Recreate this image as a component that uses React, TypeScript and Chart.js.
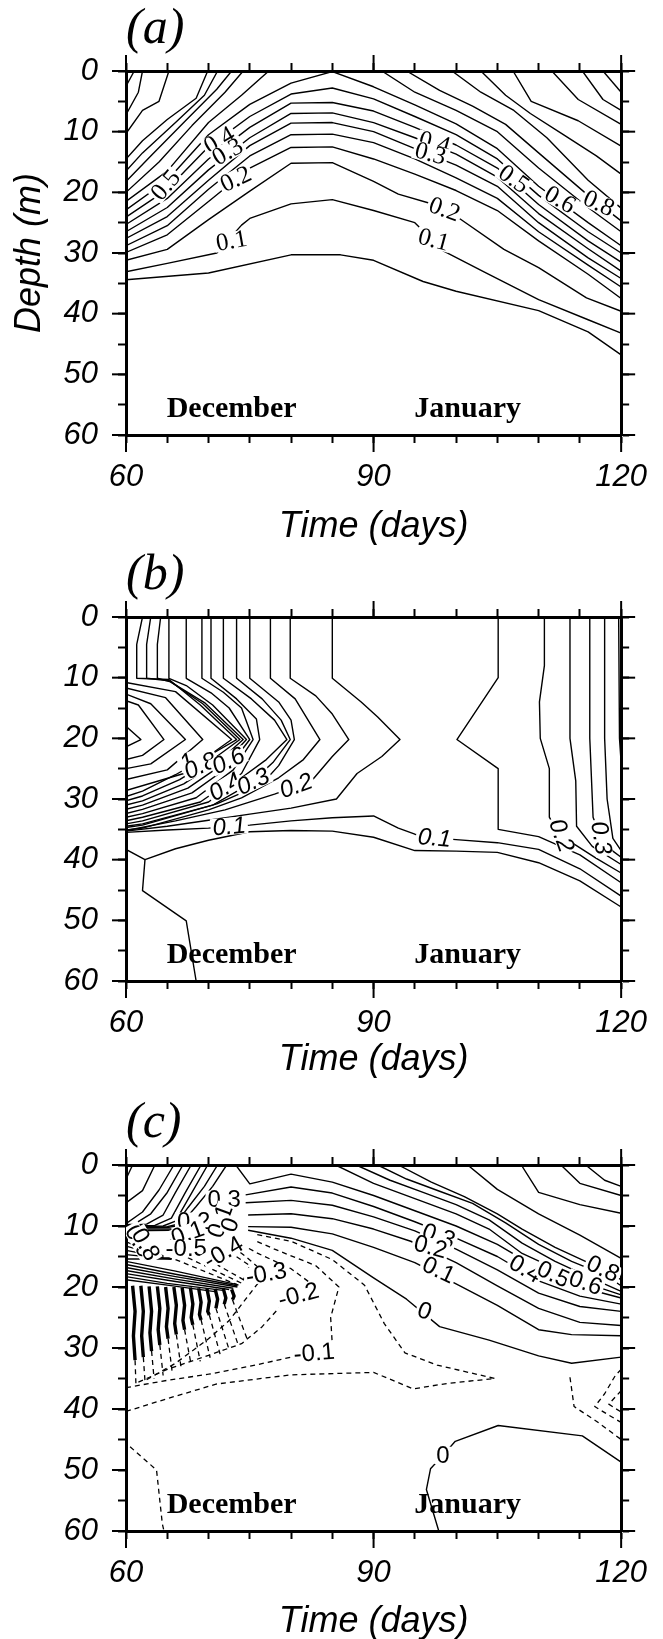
import React, { useEffect, useRef } from 'react';
import { Chart, registerables } from 'chart.js';

Chart.register(...registerables);

// ---------- axes / ticks ----------
const DAY_MIN = 60;
const DAY_MAX = 120;
const DEPTH_MIN = 0;
const DEPTH_MAX = 60;
const DAY_TICKS = [60, 65, 70, 75, 80, 85, 90, 95, 100, 105, 110, 115, 120];
const DAY_LABELS = [60, 90, 120];
const DEPTH_TICKS = [0, 5, 10, 15, 20, 25, 30, 35, 40, 45, 50, 55, 60];
const DEPTH_LABELS = [0, 10, 20, 30, 40, 50, 60];
const X_TITLE = 'Time (days)';
const Y_TITLE = 'Depth (m)';
// month annotations: [text, day, depth]
const MONTHS: [string, number, number][] = [
  ['December', 72.8, 57],
  ['January', 101.4, 57],
];

// ---------- panel (a) contour lines: [day, depth, day, depth, ...] ----------
const A_SOLID: number[][] = [
  [60, 34.4, 70, 33.3, 80, 30.3, 86, 30.3, 90, 31.2, 96, 34.7, 100, 36.3, 110, 39.5, 116, 43, 120, 46.8],
  [60, 33.1, 65, 31.7, 71, 30, 74, 25.4, 75, 24.3, 80, 21.9, 85, 21.2, 90, 23, 95, 25, 98.5, 29.7, 103.5, 33.2, 110, 37.7, 116, 41, 120, 43.2],
  [60, 31.2, 65, 29.4, 70, 24.5, 75, 19.8, 80, 15.2, 85, 15.1, 90, 18.2, 93, 20.3, 96.8, 21.8, 100.5, 24.4, 105.8, 29.4, 110, 32.4, 115.8, 37.4, 120, 39.6],
  [60, 29.9, 65, 27, 70, 21.5, 75, 16, 80, 12.6, 85, 12.5, 90, 14.5, 95, 17, 100, 19.7, 105, 23, 110, 28, 116, 33.5, 120, 37.5],
  [60, 28.8, 65, 25.5, 70, 19.5, 75, 14, 80, 10.5, 85, 10.4, 90, 11.8, 95, 14.5, 100, 17.6, 105, 21, 110, 26.5, 116, 32, 120, 35.6],
  [60, 27.6, 65, 24, 70, 18, 75, 12.3, 80, 8.6, 85, 8.5, 90, 10, 95, 12.8, 100, 15.5, 105, 19, 110, 25, 116, 30.8, 120, 34.2],
  [60, 26.5, 65, 22.5, 70, 16.3, 75, 11, 80, 7, 85, 6.9, 90, 8.5, 95, 11, 100, 13.7, 105, 17.5, 110, 23.5, 116, 29.3, 120, 33],
  [60, 25.3, 65, 21, 70, 14.5, 75, 9.3, 80, 5.3, 85, 5.2, 90, 6.6, 95, 9.3, 100, 12.2, 105, 16, 110, 22, 116, 28, 120, 31.5],
  [60, 24.1, 65, 19.5, 70, 12.5, 75, 7.5, 80, 3.8, 85, 2.8, 90, 4.6, 95, 7.5, 100, 10.5, 105, 14.5, 110, 20.5, 116, 26.5, 120, 30],
  [60, 22.9, 65, 18, 70, 10.5, 75, 5.5, 80, 2, 85, 0.1, 90, 2.6, 95, 5.6, 100, 8.7, 105, 12.8, 110, 19, 116, 25, 120, 28.8],
  [60, 21.5, 65, 16.5, 70, 8.5, 74, 4, 77.3, 0],
  [60, 20, 64, 15, 68, 9, 72, 3.5, 74.2, 0],
  [60, 18.2, 63, 14, 67, 8.5, 71, 3, 72.8, 0],
  [60, 16.5, 62, 13.5, 66, 8.5, 69.5, 4, 71.1, 0],
  [60, 14.5, 62, 11.5, 65, 8, 68.5, 4.5, 69.9, 0],
  [60, 10.3, 62, 6.5, 64, 5, 65.2, 0],
  [60, 7.2, 61.5, 3.5, 62, 0],
  [60, 2.5, 61, 0],
  [91, 0, 95, 3.5, 100, 6.5, 105, 10, 110, 16, 116, 22.5, 120, 26.5],
  [94, 0, 98, 3.2, 102, 5.8, 106, 8.8, 110, 13.5, 116, 20.5, 120, 24.7],
  [99.5, 0, 103, 3.5, 107, 6.5, 111, 11, 116, 18, 120, 22.6],
  [103, 0, 106, 4, 109, 7, 113, 10.5, 117, 14, 120, 17],
  [106.9, 0, 109.1, 5, 114.8, 8.2, 120, 12.4],
  [111.6, 0, 114.8, 4.7, 120, 8.8],
  [115.3, 0, 117.8, 4.7, 120, 6.5],
  [117.8, 0, 120, 3.5],
];
// [text, day, depth, angle]
const A_LABELS: [string, number, number, number][] = [
  ['0.4', 71.3, 11.4, -30], ['0.3', 72.3, 13.3, -30], ['0.5', 64.8, 18.8, -50],
  ['0.2', 73.3, 17.8, -25], ['0.1', 72.8, 28.0, -10],
  ['0.4', 97.4, 11.8, 15], ['0.3', 96.9, 13.6, 15], ['0.2', 98.6, 22.8, 20],
  ['0.1', 97.3, 27.8, 15], ['0.5', 107, 17.8, 35], ['0.6', 112.6, 21.2, 30], ['0.8', 117.3, 21.8, 25],
];

// ---------- panel (b) ----------
const B_SOLID: number[][] = [
  [60, 18, 61.8, 20.2, 60, 21.4],
  [60, 13.8, 61.5, 14.5, 64.6, 20.2, 62, 22.8, 60, 23.5],
  [60, 12.7, 63, 14.3, 67.2, 20.2, 63, 24.2, 60, 25],
  [60, 11.7, 64.8, 13.3, 69.3, 20.2, 65, 25.2, 60, 26.8],
  [60, 10.8, 66, 12.3, 72.8, 20.2, 67, 25.8, 60, 28.6],
  [62, 0, 61.3, 4.5, 61.3, 10.1, 65.2, 10.3, 69, 14.5, 73.4, 20.2, 70.5, 22.5, 66, 26, 62, 28.7, 60, 29.6],
  [63, 0, 62.5, 4.5, 62.5, 10.1, 65.2, 10.5, 69.3, 14.3, 73.8, 20.2, 71, 23, 66.5, 26.8, 62, 29.5, 60, 30.3],
  [64.2, 0, 63.8, 4.5, 63.8, 10.1, 65.4, 10.7, 69.6, 14.2, 74.2, 20.2, 71.5, 23.5, 67, 27.5, 62, 30.3, 60, 31],
  [65.2, 0, 65.2, 10.1, 67.3, 11.3, 70.5, 14.5, 74.6, 20.2, 72, 24, 67.5, 28.2, 62, 31, 60, 31.7],
  [67.3, 0, 67.3, 10.1, 70.3, 12.5, 72.5, 15, 75, 20.2, 72.5, 24.6, 68, 29, 62, 31.7, 60, 32.4],
  [69.2, 0, 69.2, 10.1, 71.8, 12.4, 74, 15, 75.4, 20.2, 73, 25.2, 68.5, 29.8, 62, 32.4, 60, 33],
  [70.3, 0, 70.3, 10.1, 73.4, 13.5, 75.8, 16.8, 76.2, 20.2, 74, 25.8, 69, 30.5, 62, 33, 60, 33.6],
  [71.8, 0, 71.8, 10.1, 75.2, 13.5, 78, 17, 79.5, 20.2, 77, 23.5, 74, 26.5, 70, 30.5, 62, 33.6, 60, 34.1],
  [73.4, 0, 73.4, 10.1, 76.5, 13.5, 78.8, 17, 79.9, 20.2, 77.8, 24, 75, 27.5, 70.5, 31, 62, 34.1, 60, 34.5],
  [75, 0, 75, 10.1, 78.5, 14, 80, 17, 80.4, 20.2, 78.5, 24.5, 76.5, 27.5, 71, 30.8, 62, 34.3, 60, 34.7],
  [77.5, 0, 77.5, 10.1, 80.5, 13.5, 83.5, 20.2, 81.5, 23.5, 78.5, 26.5, 74, 29.8, 70, 31.8, 62, 34.8, 60, 35.1],
  [79.9, 0, 79.9, 10.1, 83, 13, 85, 16, 87, 20.2, 85, 23, 82.5, 27, 78, 29.2, 72, 31.8, 66, 33.6, 60, 35.2],
  [85, 0, 85, 10.1, 88.5, 14, 90.5, 16.5, 93.2, 20.2, 91, 23, 88, 25.8, 85.5, 30, 80, 31.5, 75, 32.5, 70, 33.5, 65, 34.5, 60, 35.3],
  [60, 35.5, 65, 35.1, 70, 34.8, 75, 34.3, 80, 33.6, 85, 33.1, 90, 32.8, 93, 34.8, 95, 35.8, 97.4, 36.4, 100, 36.7, 105, 37.2, 110, 38.3, 115, 41.5, 120, 46],
  [60, 38.3, 62.3, 40, 66, 38.2, 70, 36.8, 75, 35.4, 80, 35.2, 85, 35.3, 90, 36.3, 95, 38.5, 100, 38.6, 105, 38.8, 110, 40.5, 115, 43.5, 120, 47.8],
  [62.3, 40, 62, 45.1, 67.3, 50.1, 68.5, 60],
  [105.1, 0, 105.1, 10, 100.1, 20.2, 105.1, 25, 105.1, 35, 110, 36.2, 115, 39.2, 120, 43.8],
  [110.7, 0, 110.7, 8, 110.1, 14, 110.2, 20, 111.3, 25, 111.3, 33, 112.5, 36, 114.5, 37.6, 117, 39.8, 120, 42.2],
  [113.8, 0, 113.8, 12, 113.8, 20, 114.5, 27, 114.6, 34.5, 116.5, 37.8, 120, 40.8],
  [116.2, 0, 116.2, 20, 116.6, 33, 117.5, 36.3, 119, 38.6, 120, 39.6],
  [118, 0, 118, 20, 118.3, 30, 119, 36.5, 120, 38.5],
  [119.7, 0, 119.8, 20, 120, 24],
];
const B_LABELS: [string, number, number, number][] = [
  ['1', 67.4, 23.9, -25], ['0.8', 69.0, 24.5, -25], ['0.6', 72.4, 23.7, -25],
  ['0.4', 72.0, 28.0, -30], ['0.3', 75.4, 27.1, -25], ['0.2', 80.6, 27.8, -20],
  ['0.1', 72.5, 34.5, -5], ['0.1', 97.4, 36.4, 5], ['0.2', 112.8, 36.0, 70], ['0.3', 117.6, 36.4, 80],
];

// ---------- panel (c) ----------
const C_SOLID: number[][] = [
  [60, 6.2, 62, 4.2, 63.5, 0],
  [60, 2.3, 60.8, 0],
  [65.8, 0, 64, 4.1, 62, 7.7, 60, 9.6],
  [66.9, 0, 65, 4.5, 63, 8, 61, 9.7, 60, 9.8],
  [67.9, 0, 66, 4.5, 64.5, 8.2, 62.5, 9.7, 60, 9.9],
  [69.1, 0, 67.2, 4.5, 65.5, 8.7, 63.5, 9.9, 60, 10],
  [69.9, 0, 68, 4.5, 66, 9.2, 64.5, 10, 60, 10.1],
  [71.1, 0, 69.5, 3.5, 67.5, 7, 66, 9.8, 65, 10.1, 60, 10.2],
  [72.2, 0, 70.5, 3.5, 68.5, 6.8, 66.5, 9.9, 65.2, 10.2, 60, 10.3],
  [60, 10.5, 65.5, 10.5],
  [60, 10.8, 65.5, 10.7],
  [73.3, 0, 75, 3.1, 80, 1.5, 85, 2.8, 90, 5, 95, 7.5, 100, 10, 105, 13, 110, 17, 115, 20, 120, 21.8],
  [74.5, 4.9, 80, 3.6, 85, 4.6, 90, 6.8, 95, 9.3, 100, 12, 105, 15, 110, 19, 115, 21.5, 120, 22.8],
  [74.5, 6.2, 80, 5.8, 85, 6.6, 90, 8.5, 95, 10.8, 100, 13.8, 105, 17.2, 110, 21, 115, 23.2, 120, 24],
  [74.8, 8.2, 80, 8, 85, 8.8, 90, 10.5, 94.5, 12.5, 100, 16, 105, 19.8, 110, 23.5, 115, 25.8, 120, 26.3],
  [74.8, 10.1, 80, 10.2, 85, 11.3, 90, 13.5, 95, 16, 100, 19.5, 105, 23, 110, 27, 114, 27.8, 120, 28],
  [74.8, 10.7, 80, 12, 85, 14, 90, 18.5, 94, 22, 98, 26.5, 104, 28.7, 110, 31.3, 114, 32.5, 120, 31.5],
  [85.4, 0, 90, 3, 95, 5.5, 100, 8, 104, 10.5, 108, 14.5, 112, 17, 116, 19.5, 120, 21.3],
  [87.9, 0, 92, 2.5, 96, 4.5, 100, 6.5, 104, 9, 108, 12.8, 112, 15.8, 116, 18.3, 120, 20.7],
  [90.5, 0, 94, 2.3, 98, 4.3, 102, 6.3, 106, 9.5, 110, 13, 114, 15.8, 118, 18, 120, 19.8],
  [93, 0, 97, 2.8, 101, 5.2, 105, 8, 108, 10.5, 112, 13.5, 116, 16, 120, 18.8],
  [101.4, 0, 105, 4, 110, 8, 115, 11.5, 120, 15.3],
  [107.9, 0, 110, 4.5, 115, 6.5, 120, 7.9],
  [112.7, 0, 115, 3, 120, 5],
  [115.7, 0, 118, 2.5, 120, 3.5],
  [60, 12.6, 65.5, 15.4],
  [60, 13.3, 65.5, 15.4],
  [60, 14, 65.5, 15.4],
  [60, 14.7, 65.5, 15.4],
  [60, 15.4, 65.5, 15.4],
  [60, 15.8, 66, 17.4, 73.5, 19.6],
  [60, 16.3, 66, 17.9, 73.5, 19.8],
  [60, 16.8, 66, 18.3, 73.5, 20],
  [60, 17.3, 66, 18.7, 73, 20.2],
  [60, 17.8, 66, 19.1, 72.5, 20.4],
  [60, 18.3, 65, 19.4, 72, 20.6],
  [60, 18.8, 65, 19.7, 71, 20.8],
  [97.9, 60, 96.4, 53.2, 96.9, 49.8, 98.4, 47.6, 99.9, 45.3, 105.1, 42.7, 115.3, 44.4, 120, 48.7],
];
const C_HEAVY: number[][] = [
  [60.8, 19.8, 61.1, 24, 60.9, 28, 61.1, 32],
  [61.8, 19.8, 62.1, 24, 61.9, 28, 62.1, 31.5],
  [62.8, 19.9, 63.1, 24, 62.9, 27.5, 63.1, 30.5],
  [63.8, 19.9, 64.1, 23.5, 63.9, 27, 64.1, 29.5],
  [64.8, 20, 65.1, 23.5, 64.9, 26.5, 65.1, 28.5],
  [65.8, 20, 66.1, 23, 65.9, 26, 66.1, 27.8],
  [66.8, 20.1, 67.1, 23, 66.9, 25.5, 67.1, 27],
  [67.8, 20.1, 68.1, 22.8, 67.9, 25, 68.1, 26.2],
  [68.8, 20.2, 69.1, 22.5, 68.9, 24.5, 69.1, 25.4],
  [69.8, 20.2, 70.1, 22.3, 69.9, 24, 70.1, 24.6],
  [70.8, 20.3, 71.1, 22, 70.9, 23.5],
  [71.8, 20.3, 72.1, 21.8, 71.9, 22.8],
  [72.8, 20.4, 73.1, 21.5, 72.9, 22.1],
];
const C_DASHED: number[][] = [
  [61.1, 32, 61.2, 35.8],
  [62.1, 31.5, 62.3, 35.4],
  [63.1, 30.5, 63.4, 35],
  [64.1, 29.5, 64.5, 34.5],
  [65.1, 28.5, 65.6, 34],
  [66.1, 27.8, 66.7, 33.4],
  [67.1, 27, 67.9, 32.8],
  [68.1, 26.2, 69, 32.2],
  [69.1, 25.4, 70.2, 31.6],
  [70.1, 24.6, 71.4, 31],
  [70.9, 23.5, 72.5, 30.3],
  [71.9, 22.8, 73.6, 29.5],
  [72.9, 22.1, 74.7, 28.6],
  [60, 40.4, 65, 38.3, 71, 35.9, 80, 34.4, 90, 34, 94.8, 36.7, 99, 35.8, 104.7, 35, 97.7, 32.8, 93.8, 30.8, 91.3, 26, 88.9, 19.7, 85, 15.5, 80, 12.5, 75.5, 11.3],
  [60, 36.5, 65, 35.3, 70, 34.3, 75, 33, 80, 31.5, 82.7, 30.8, 85, 29.5, 84.8, 25, 85.8, 20, 83, 16.5, 78, 13.8, 75.5, 12.3],
  [61.5, 35.6, 65, 33.5, 70, 31.2, 74, 29.3, 76.5, 26.5, 78.5, 23.5, 80.8, 21.3, 82.5, 19.5, 80, 17, 76, 14.5, 74.5, 13.4],
  [62.5, 35.2, 66, 32.5, 70, 28.5, 72.5, 25.5, 74.5, 22, 76.9, 17.8, 74.5, 15, 73.5, 14],
  [72.5, 14.2, 75, 16.5, 74, 19.5],
  [66, 15.5, 73.8, 19.8],
  [67.5, 15.2, 74.2, 19.5],
  [69, 14.8, 74.5, 19],
  [60.5, 46.2, 63.7, 50, 64.4, 58.8, 64.6, 60],
  [113.8, 34.8, 114.3, 39.6, 117, 42, 120, 45],
  [120, 33.5, 119.3, 34.5, 118, 37.5, 116.8, 39.6, 118.5, 41, 120, 42.2],
  [120, 37, 118.5, 39.2, 120, 40.5],
];
const C_LABELS: [string, number, number, number][] = [
  ['0.3', 71.9, 5.6, 0], ['0.2', 68.2, 9.2, 0], ['0.1', 71.4, 9.2, -70], ['0', 72.6, 9.8, -70],
  ['-0.1', 67.0, 11.4, -20], ['0.9', 61.6, 12.5, 60], ['0.8', 62.4, 13.0, 60],
  ['-0.5', 67.3, 13.7, 0], ['-0.4', 71.8, 14.3, -30], ['-0.3', 77.0, 17.8, -10],
  ['-0.2', 80.9, 21.3, -15], ['-0.1', 82.8, 30.8, -5],
  ['0.3', 97.9, 11.6, 20], ['0.2', 96.9, 13.4, 15], ['0.1', 97.9, 17.2, 25], ['0', 96.2, 23.9, 20],
  ['0.4', 108.4, 17.0, 30], ['0.5', 111.8, 17.9, 25], ['0.6', 115.7, 19.3, 20], ['0.8', 117.8, 17.0, 25],
  ['0', 98.4, 47.6, 0],
];

// ---------- styling ----------
const SANS = "'Liberation Sans', Arial, sans-serif";
const SERIF = "'Liberation Serif', 'DejaVu Serif', serif";
const W = 663;

type Group = { lines: number[][]; width: number; dash: number[] };
type Spec = {
  h: number; topH: number; bottomH: number; titlePad: number; yTitle: boolean; letter: string;
  groups: Group[]; labels: [string, number, number, number][]; labelFont: string; labelSize: number;
};

const SPECS: { spec: Spec; top: number }[] = [
  {
    top: 0,
    spec: {
      h: 545, topH: 71, bottomH: 110, titlePad: 4, yTitle: true, letter: '(a)',
      groups: [{ lines: A_SOLID, width: 1.4, dash: [] }],
      labels: A_LABELS, labelFont: `25px ${SERIF}`, labelSize: 25,
    },
  },
  {
    top: 545,
    spec: {
      h: 545, topH: 72, bottomH: 109, titlePad: 16, yTitle: false, letter: '(b)',
      groups: [{ lines: B_SOLID, width: 1.4, dash: [] }],
      labels: B_LABELS, labelFont: `italic 24px ${SANS}`, labelSize: 24,
    },
  },
  {
    top: 1090,
    spec: {
      h: 549, topH: 75, bottomH: 108, titlePad: 3, yTitle: false, letter: '(c)',
      groups: [
        { lines: C_SOLID, width: 1.4, dash: [] },
        { lines: C_HEAVY, width: 3.4, dash: [] },
        { lines: C_DASHED, width: 1.3, dash: [5, 4] },
      ],
      labels: C_LABELS, labelFont: `24px ${SANS}`, labelSize: 24,
    },
  },
];

const decorPlugin = {
  id: 'decor',
  afterDatasetsDraw(chart: any, _a: any, opts: any) {
    const { ctx, chartArea: ca, scales } = chart;
    const xs = scales.x, ys = scales.y;
    ctx.save();
    ctx.beginPath();
    ctx.rect(ca.left, ca.top, ca.right - ca.left, ca.bottom - ca.top);
    ctx.clip();
    ctx.font = opts.labelFont;
    ctx.textAlign = 'center';
    ctx.textBaseline = 'middle';
    const fs = opts.labelSize;
    for (const [t, d, z, ang] of opts.labels as [string, number, number, number][]) {
      const px = xs.getPixelForValue(d), py = ys.getPixelForValue(z);
      ctx.save();
      ctx.translate(px, py);
      ctx.rotate((ang * Math.PI) / 180);
      const w = ctx.measureText(t).width;
      ctx.fillStyle = '#fff';
      ctx.fillRect(-w / 2 - 2, -fs * 0.36, w + 4, fs * 0.72);
      ctx.fillStyle = '#000';
      ctx.fillText(t, 0, 1);
      ctx.restore();
    }
    // month names
    ctx.font = `bold 30px ${SERIF}`;
    ctx.textBaseline = 'alphabetic';
    ctx.fillStyle = '#000';
    for (const [t, d, z] of MONTHS) {
      ctx.fillText(t, xs.getPixelForValue(d), ys.getPixelForValue(z));
    }
    ctx.restore();
  },
  afterDraw(chart: any, _a: any, opts: any) {
    const { ctx, chartArea: ca, scales } = chart;
    const xs = scales.x, ys = scales.y;
    ctx.save();
    ctx.strokeStyle = '#000';
    ctx.lineWidth = 2;
    const seg = (x1: number, y1: number, x2: number, y2: number) => {
      ctx.beginPath(); ctx.moveTo(x1, y1); ctx.lineTo(x2, y2); ctx.stroke();
    };
    for (const v of DAY_LABELS) {
      const px = xs.getPixelForValue(v);
      seg(px, ca.bottom, px, ca.bottom + 17);
      seg(px, ca.top, px, ca.top - 16);
    }
    for (const v of DEPTH_LABELS) {
      const py = ys.getPixelForValue(v);
      seg(ca.left - 14, py, ca.left, py);
      seg(ca.right, py, ca.right + 14, py);
    }
    ctx.fillStyle = '#000';
    ctx.font = `italic 50px ${SERIF}`;
    ctx.textAlign = 'left';
    ctx.textBaseline = 'alphabetic';
    ctx.fillText(opts.letter, ca.left, ca.top - 28);
    ctx.restore();
  },
};

function toPts(arr: number[]) {
  const out: { x: number; y: number }[] = [];
  for (let i = 0; i + 1 < arr.length; i += 2) out.push({ x: arr[i], y: arr[i + 1] });
  return out;
}

function buildConfig(s: Spec): any {
  const datasets: any[] = [];
  for (const g of s.groups) {
    for (const line of g.lines) {
      datasets.push({
        data: toPts(line),
        borderColor: '#000',
        borderWidth: g.width,
        borderDash: g.dash,
        pointRadius: 0,
        fill: false,
        tension: 0,
        borderJoinStyle: 'round',
      });
    }
  }
  const tickFont = { family: SANS, size: 31, style: 'italic' as const };
  const titleFont = { family: SANS, size: 36, style: 'italic' as const, lineHeight: 0.8 };
  const gridCfg = { drawOnChartArea: false, drawTicks: true, tickLength: 8, tickWidth: 2, color: '#000' };
  const borderCfg = { display: true, width: 3, color: '#000' };
  const setDayTicks = (sc: any) => { sc.ticks = DAY_TICKS.map((v) => ({ value: v })); };
  const setDepthTicks = (sc: any) => { sc.ticks = DEPTH_TICKS.map((v) => ({ value: v })); };
  return {
    type: 'line',
    data: { datasets },
    plugins: [decorPlugin],
    options: {
      animation: false,
      responsive: false,
      maintainAspectRatio: false,
      events: [],
      layout: { padding: 0 },
      plugins: {
        legend: { display: false },
        tooltip: { enabled: false },
        title: { display: false },
        decor: { labels: s.labels, labelFont: s.labelFont, labelSize: s.labelSize, letter: s.letter },
      },
      scales: {
        x: {
          type: 'linear', position: 'bottom', min: DAY_MIN, max: DAY_MAX,
          afterBuildTicks: setDayTicks,
          ticks: {
            autoSkip: false, maxRotation: 0, minRotation: 0, color: '#000', font: tickFont, padding: 16,
            callback: (v: number) => (DAY_LABELS.includes(v) ? String(v) : ''),
          },
          grid: gridCfg, border: borderCfg,
          title: { display: true, text: X_TITLE, color: '#000', font: titleFont, padding: { top: 0, bottom: s.titlePad } },
          afterFit: (sc: any) => { sc.height = s.bottomH; },
        },
        xTop: {
          axis: 'x', type: 'linear', position: 'top', min: DAY_MIN, max: DAY_MAX,
          afterBuildTicks: setDayTicks,
          ticks: { autoSkip: false, maxRotation: 0, callback: () => '' },
          grid: gridCfg, border: borderCfg,
          afterFit: (sc: any) => { sc.height = s.topH; },
        },
        y: {
          type: 'linear', position: 'left', reverse: true, min: DEPTH_MIN, max: DEPTH_MAX,
          afterBuildTicks: setDepthTicks,
          ticks: {
            autoSkip: false, color: '#000', font: tickFont, padding: 20,
            callback: (v: number) => (DEPTH_LABELS.includes(v) ? String(v) : ''),
          },
          grid: gridCfg, border: borderCfg,
          title: { display: s.yTitle, text: Y_TITLE, color: '#000', font: titleFont, padding: { top: 16, bottom: 0 } },
          afterFit: (sc: any) => { sc.width = 126; },
        },
        yRight: {
          axis: 'y', type: 'linear', position: 'right', reverse: true, min: DEPTH_MIN, max: DEPTH_MAX,
          afterBuildTicks: setDepthTicks,
          ticks: { autoSkip: false, callback: () => '' },
          grid: gridCfg, border: borderCfg,
          afterFit: (sc: any) => { sc.width = W - 636; },
        },
      },
    },
  };
}

function Panel({ spec, top }: { spec: Spec; top: number }) {
  const ref = useRef<HTMLCanvasElement>(null);
  useEffect(() => {
    const chart = new Chart(ref.current as HTMLCanvasElement, buildConfig(spec));
    return () => chart.destroy();
  }, [spec]);
  return (
    <canvas
      ref={ref}
      width={W}
      height={spec.h}
      style={{ position: 'absolute', left: 0, top, width: W, height: spec.h, display: 'block' }}
    />
  );
}

export default function App() {
  return (
    <div style={{ position: 'absolute', left: 0, top: 0, width: W, height: 1639, background: '#fff', overflow: 'hidden' }}>
      {SPECS.map((p, i) => (
        <Panel key={i} spec={p.spec} top={p.top} />
      ))}
    </div>
  );
}
